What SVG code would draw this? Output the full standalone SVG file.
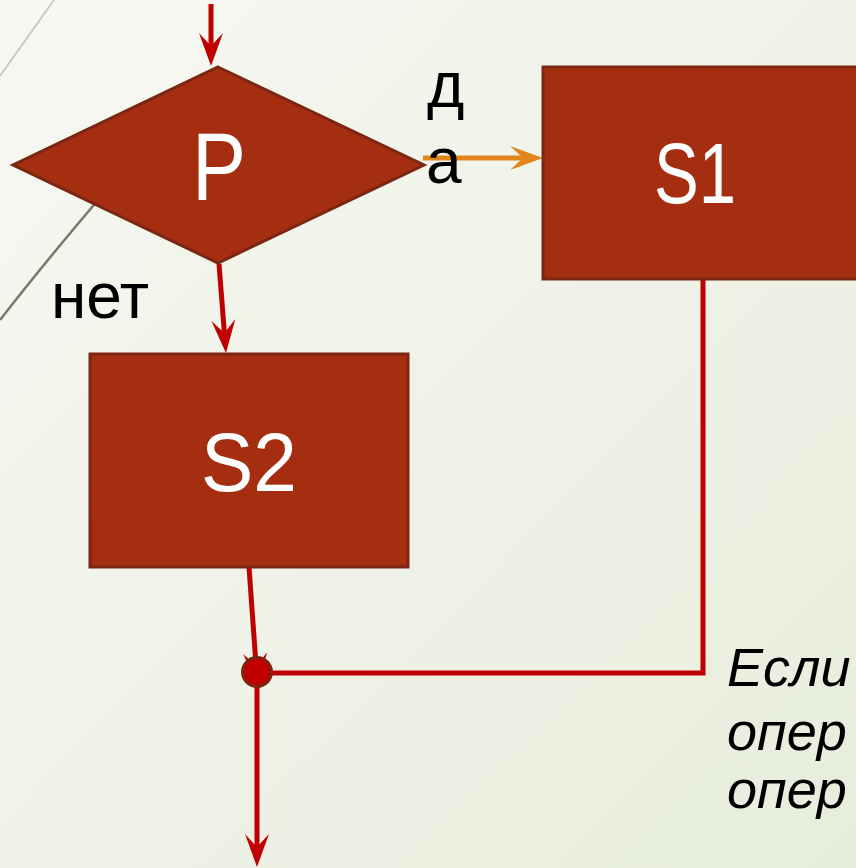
<svg xmlns="http://www.w3.org/2000/svg" width="856" height="868" viewBox="0 0 856 868">
  <defs>
    <linearGradient id="bg" x1="0" y1="0" x2="1" y2="1">
      <stop offset="0" stop-color="#f7f8f3"/>
      <stop offset="1" stop-color="#e7eddb"/>
    </linearGradient>
    <marker id="arrRed" markerUnits="userSpaceOnUse" markerWidth="34" markerHeight="24" refX="13" refY="12" orient="auto" overflow="visible">
      <path d="M0,0 L33,12 L0,24 L13,12 Z" fill="#c00000"/>
    </marker>
    <marker id="arrOrange" markerUnits="userSpaceOnUse" markerWidth="34" markerHeight="24" refX="13" refY="12" orient="auto" overflow="visible">
      <path d="M0,0 L33,12 L0,24 L13,12 Z" fill="#e2861c"/>
    </marker>
  </defs>
  <style>
    .block { fill: #a52e10; stroke: #7a2612; stroke-width: 3; }
    .red { stroke: #c00000; stroke-width: 5; fill: none; }
    .orange { stroke: #e2861c; stroke-width: 5; fill: none; }
    .white { fill: #ffffff; font-family: "Liberation Sans", Arial, sans-serif; }
    .lbl { fill: #000000; font-family: "Liberation Sans", Arial, sans-serif; font-size: 64px; }
    .note { fill: #000000; font-family: "Liberation Sans", Arial, sans-serif; font-size: 54px; font-style: italic; }
  </style>
  <rect x="0" y="0" width="856" height="868" fill="url(#bg)"/>
  <g id="decor">
    <line x1="0" y1="76" x2="54" y2="0" stroke="#cbcabd" stroke-width="2"/>
    <path d="M0,320 Q45,262 105,192" stroke="#7d7866" stroke-width="2.5" fill="none"/>
  </g>
  <g id="connectors">
    <line class="red" x1="211" y1="4" x2="211" y2="46" marker-end="url(#arrRed)"/>
    <line class="red" x1="219" y1="264" x2="224.4" y2="333" marker-end="url(#arrRed)"/>
    <line class="orange" x1="423" y1="158" x2="523" y2="158" marker-end="url(#arrOrange)"/>
    <polyline class="red" stroke-width="6" points="703,279 703,673 257,673"/>
    <line class="red" x1="249" y1="567" x2="256.1" y2="666" marker-end="url(#arrRed)"/>
    <line class="red" x1="257" y1="673" x2="257" y2="847" marker-end="url(#arrRed)"/>
  </g>
  <g id="node-P">
    <polygon class="block" points="218,67 424,165 218,263 13,165"/>
    <text class="white" x="219" y="200" font-size="96" text-anchor="middle" textLength="54" lengthAdjust="spacingAndGlyphs">P</text>
  </g>
  <g id="node-S1">
    <rect class="block" x="543" y="67" width="330" height="212"/>
    <text class="white" x="695" y="203" font-size="85" text-anchor="middle" textLength="82" lengthAdjust="spacingAndGlyphs">S1</text>
  </g>
  <g id="node-S2">
    <rect class="block" x="90" y="354" width="318" height="213"/>
    <text class="white" x="249" y="491" font-size="83" text-anchor="middle" textLength="96" lengthAdjust="spacingAndGlyphs">S2</text>
  </g>
  <g id="node-join">
    <circle cx="257" cy="672" r="14.5" fill="#c00000" stroke="#7a2612" stroke-width="3"/>
  </g>
  <g id="labels">
    <text class="lbl" x="427" y="107">д</text>
    <text class="lbl" x="426" y="183">а</text>
    <text class="lbl" x="51" y="318">нет</text>
    <text class="note" x="727" y="686">Если</text>
    <text class="note" x="727" y="750">опер</text>
    <text class="note" x="727" y="808">опер</text>
  </g>
</svg>
